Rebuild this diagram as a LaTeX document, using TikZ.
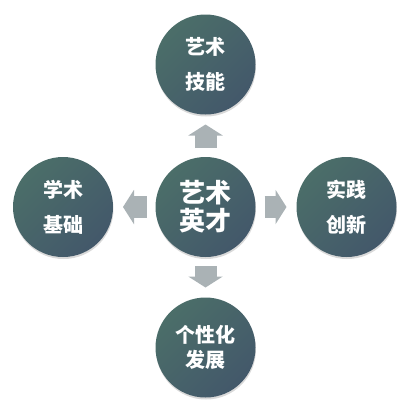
\documentclass[tikz,border=0pt]{standalone}
\usepackage{fontspec}
\newfontfamily\cjk{Noto Sans CJK SC}
\usetikzlibrary{arrows.meta,shadows}
\definecolor{ballA}{HTML}{4B6E69}
\definecolor{ballB}{HTML}{43586A}
\definecolor{fatgray}{HTML}{AAB2B5}

\begin{document}
\begin{tikzpicture}[x=1pt,y=-1pt,
    ball/.style={circle, minimum size=100pt, inner sep=0pt, outer sep=0pt,
        shading=axis, top color=ballA, bottom color=ballB, shading angle=45,
        drop shadow={shadow xshift=0.5pt, shadow yshift=-2pt, opacity=0.3},
        text=white, align=center, font=\cjk\bfseries\fontsize{20}{35}\selectfont},
    fat/.style={draw=fatgray, line width=22pt, -{Triangle[width=34pt,length=11pt]},
        shorten <=9pt, shorten >=10pt}]
    \useasboundingbox (0,0) rectangle (411,410);

    \node[ball, font=\cjk\bfseries\fontsize{26}{28}\selectfont] (ART) at (205.5,207) {艺术\\英才};
    \node[ball] (SKL) at (205.5,64.5)  {艺术\\技能};
    \node[ball] (ACA) at (63,207)      {学术\\基础};
    \node[ball] (PRA) at (346.5,207)   {实践\\创新};
    \node[ball, font=\cjk\bfseries\fontsize{20}{24.5}\selectfont] (IND) at (205.5,347.5) {个性化\\发展};

    \draw [fat] (ART) -- (SKL);
    \draw [fat] (ART) -- (ACA);
    \draw [fat] (ART) -- (PRA);
    \draw [fat] (ART) -- (IND);
\end{tikzpicture}
\end{document}
